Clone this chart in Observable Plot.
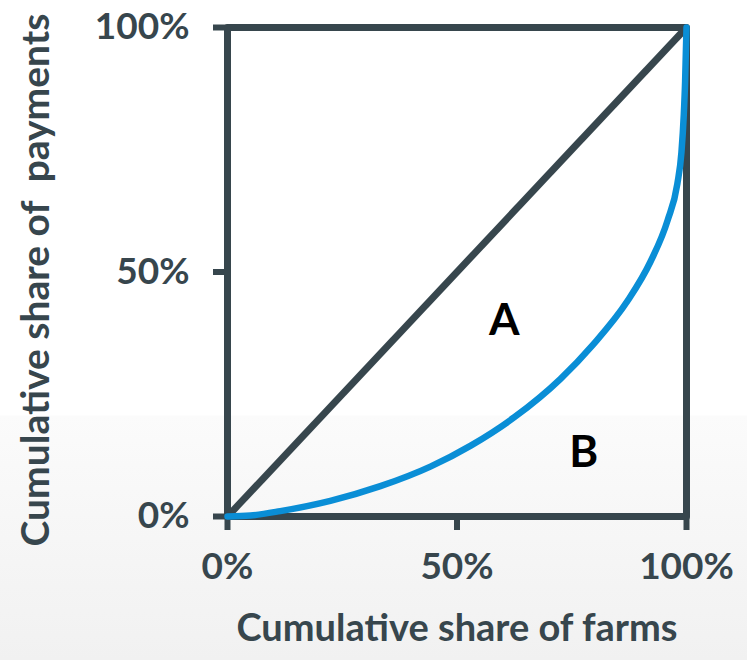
<!DOCTYPE html>
<html>
<head>
<meta charset="utf-8">
<script src="https://cdn.jsdelivr.net/npm/d3@7"></script>
<script src="https://cdn.jsdelivr.net/npm/@observablehq/plot@0.6"></script>
<style>
  html, body { margin: 0; padding: 0; }
  body {
    width: 747px; height: 660px; overflow: hidden;
    background: linear-gradient(to bottom, #ffffff 0px, #ffffff 415px, #fbfbfb 416px, #f1f1f1 660px);
    font-family: Lato, "Open Sans", sans-serif;
  }
  svg { background: transparent !important; }
</style>
</head>
<body>
<div id="chart"></div>
<script>
// Cumulative share of farms (x) vs cumulative share of payments (y)
const farmShare    = [0, 0.05, 0.115, 0.224, 0.333, 0.442, 0.53, 0.625, 0.725, 0.797, 0.871, 0.922, 0.959, 0.98, 0.989, 0.994, 0.997, 1];
const paymentShare = [0, 0.002, 0.011, 0.032, 0.062, 0.102, 0.145, 0.203, 0.281, 0.352, 0.44, 0.522, 0.606, 0.68, 0.745, 0.82, 0.89, 1];
const equalityX = [0, 1];
const equalityY = [0, 1];
const tickValues = [0, 0.5, 1];
const tickLabels = ["0%", "50%", "100%"];
const areaLabels = ["A", "B"];
const areaLabelX = [0.603, 0.776];
const areaLabelY = [0.40, 0.13];
const xTitle = "Cumulative share of farms";
const yTitle = "Cumulative share of \u00a0payments";

const dark = "#37464d";
const blue = "#0a8ed6";

const lorenz = farmShare.map((x, i) => ({x, y: paymentShare[i]}));
const equality = equalityX.map((x, i) => ({x, y: equalityY[i]}));
const labels = areaLabels.map((t, i) => ({t, x: areaLabelX[i], y: areaLabelY[i]}));
const fmt = d => tickLabels[tickValues.indexOf(d)];

const chart = Plot.plot({
  width: 747,
  height: 660,
  marginLeft: 227,
  marginRight: 61,
  marginTop: 27,
  marginBottom: 144,
  style: {fontFamily: "Lato, 'Open Sans', sans-serif", background: "transparent", overflow: "visible"},
  x: {domain: [0, 1]},
  y: {domain: [0, 1]},
  marks: [
    Plot.axisX({ticks: tickValues, tickFormat: fmt, tickSize: 14, tickPadding: 22, strokeWidth: 6, color: dark,
      fontSize: 37, fontWeight: "bold", label: null}),
    Plot.axisY({ticks: tickValues, tickFormat: fmt, tickSize: 14, tickPadding: 24, strokeWidth: 6, color: dark,
      fontSize: 37, fontWeight: "bold", label: null}),
    Plot.frame({stroke: dark, strokeWidth: 7, strokeLinejoin: "round"}),
    Plot.line(equality, {x: "x", y: "y", stroke: dark, strokeWidth: 7, strokeLinecap: "butt"}),
    Plot.line(lorenz, {x: "x", y: "y", stroke: blue, strokeWidth: 6.5, curve: "monotone-x"}),
    Plot.text(labels, {x: "x", y: "y", text: "t", fill: "#000", fontSize: 44, fontWeight: "bold"}),
    Plot.text([xTitle], {frameAnchor: "bottom", dy: 124, fill: dark, fontSize: 38, fontWeight: "bold", text: d => d}),
    Plot.text([yTitle], {frameAnchor: "left", textAnchor: "middle", dx: -191, dy: 8, rotate: -90, fill: dark, fontSize: 39, fontWeight: "bold", text: d => d})
  ]
});
document.getElementById("chart").appendChild(chart);
</script>
</body>
</html>
